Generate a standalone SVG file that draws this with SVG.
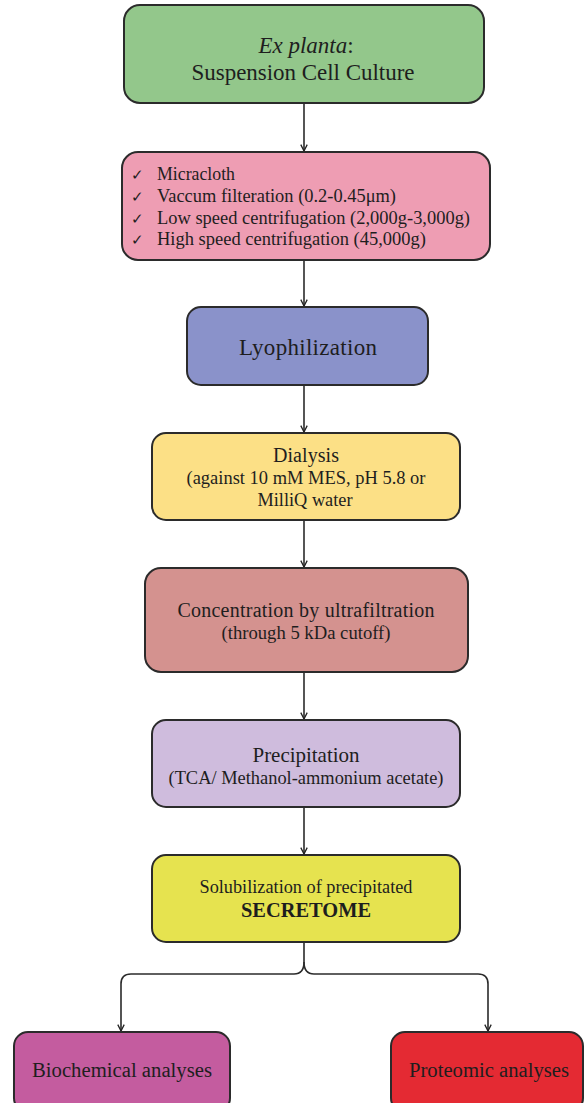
<svg xmlns="http://www.w3.org/2000/svg" width="584" height="1103" viewBox="0 0 584 1103" font-family="'Liberation Serif', 'DejaVu Serif', serif">
<defs>
<marker id="ah" viewBox="0 0 10 10" refX="9" refY="5" markerWidth="8" markerHeight="8" orient="auto" markerUnits="userSpaceOnUse">
<path d="M1,1 L9,5 L1,9" fill="none" stroke="#222" stroke-width="1.6"/>
</marker>
<style>
.box{stroke:#2b2b2b;stroke-width:2}
.t{font-family:'Liberation Serif',serif;fill:#1e1e1e}
.c{text-anchor:middle}
.con{fill:none;stroke:#2b2b2b;stroke-width:1.6}
</style>
</defs>
<rect width="584" height="1103" fill="#ffffff"/>
<g id="connectors">
<path class="con" d="M304,103 L304,151" marker-end="url(#ah)"/>
<path class="con" d="M304,260 L304,306" marker-end="url(#ah)"/>
<path class="con" d="M304,385 L304,432" marker-end="url(#ah)"/>
<path class="con" d="M304,520 L304,567" marker-end="url(#ah)"/>
<path class="con" d="M304,672 L304,719" marker-end="url(#ah)"/>
<path class="con" d="M304,807 L304,854" marker-end="url(#ah)"/>
<path class="con" d="M304,942 L304,962 Q304,974 294,974 L131,974 Q121,974 121,984 L121,1031" marker-end="url(#ah)"/>
<path class="con" d="M304,962 Q304,974 314,974 L478,974 Q488,974 488,984 L488,1031" marker-end="url(#ah)"/>
</g>
<g id="n1">
<rect class="box" x="124" y="5" width="360" height="98" rx="16" fill="#93c78b"/>
<text class="t c" x="306" y="53" font-size="23"><tspan font-style="italic">Ex planta</tspan>:</text>
<text class="t c" x="303" y="80" font-size="23" textLength="223" lengthAdjust="spacing">Suspension Cell Culture</text>
</g>
<g id="n2">
<rect class="box" x="122" y="152" width="368" height="108" rx="16" fill="#ee9db3"/>
<g font-size="18">
<text class="t" x="131" y="180" font-size="15">✓</text><text class="t" x="157" y="180" textLength="78" lengthAdjust="spacingAndGlyphs">Micracloth</text>
<text class="t" x="131" y="202" font-size="15">✓</text><text class="t" x="157" y="202" textLength="239" lengthAdjust="spacingAndGlyphs">Vaccum filteration (0.2-0.45μm)</text>
<text class="t" x="131" y="224" font-size="15">✓</text><text class="t" x="157" y="224" textLength="313" lengthAdjust="spacingAndGlyphs">Low speed centrifugation (2,000g-3,000g)</text>
<text class="t" x="131" y="245" font-size="15">✓</text><text class="t" x="157" y="245" textLength="269" lengthAdjust="spacingAndGlyphs">High speed centrifugation (45,000g)</text>
</g>
</g>
<g id="n3">
<rect class="box" x="187" y="307" width="241" height="78" rx="14" fill="#8a92ca"/>
<text class="t c" x="308" y="355" font-size="23" textLength="138" lengthAdjust="spacing">Lyophilization</text>
</g>
<g id="n4">
<rect class="box" x="152" y="433" width="308" height="87" rx="14" fill="#fce086"/>
<text class="t c" x="306" y="462" font-size="20" textLength="66" lengthAdjust="spacing">Dialysis</text>
<text class="t c" x="306" y="484" font-size="18" textLength="239" lengthAdjust="spacingAndGlyphs">(against 10 mM MES, pH 5.8 or</text>
<text class="t c" x="305" y="506" font-size="18" textLength="95" lengthAdjust="spacingAndGlyphs">MilliQ water</text>
</g>
<g id="n5">
<rect class="box" x="145" y="568" width="323" height="104" rx="16" fill="#d4928f"/>
<text class="t c" x="306" y="617" font-size="20" textLength="257" lengthAdjust="spacing">Concentration by ultrafiltration</text>
<text class="t c" x="306" y="639" font-size="18" textLength="169" lengthAdjust="spacingAndGlyphs">(through 5 kDa cutoff)</text>
</g>
<g id="n6">
<rect class="box" x="152" y="720" width="308" height="87" rx="14" fill="#cfbcdd"/>
<text class="t c" x="306" y="762" font-size="21" textLength="107" lengthAdjust="spacing">Precipitation</text>
<text class="t c" x="306" y="784" font-size="18" textLength="275" lengthAdjust="spacingAndGlyphs">(TCA/ Methanol-ammonium acetate)</text>
</g>
<g id="n7">
<rect class="box" x="152" y="855" width="308" height="87" rx="14" fill="#e6e34f"/>
<text class="t c" x="306" y="893" font-size="18" textLength="213" lengthAdjust="spacingAndGlyphs">Solubilization of precipitated</text>
<text class="t c" x="306" y="917" font-size="21" font-weight="bold" textLength="130" lengthAdjust="spacingAndGlyphs">SECRETOME</text>
</g>
<g id="n8">
<rect class="box" x="14" y="1032" width="216" height="80" rx="14" fill="#c45c9f"/>
<text class="t c" x="122" y="1077" font-size="20" textLength="180" lengthAdjust="spacingAndGlyphs">Biochemical analyses</text>
</g>
<g id="n9">
<rect class="box" x="391" y="1032" width="192" height="80" rx="14" fill="#e42a33"/>
<text class="t c" x="489" y="1077" font-size="20" textLength="160" lengthAdjust="spacingAndGlyphs">Proteomic analyses</text>
</g>
</svg>
